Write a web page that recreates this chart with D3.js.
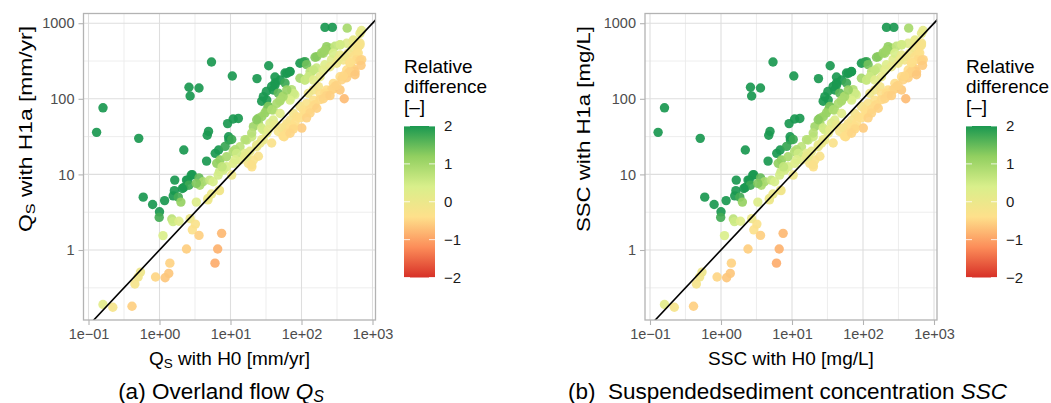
<!DOCTYPE html>
<html>
<head>
<meta charset="utf-8">
<script src="https://cdn.jsdelivr.net/npm/d3@7"></script>
<style>
  html, body { margin: 0; padding: 0; background: #fff; }
  svg { display: block; font-family: "Liberation Sans", Arial, Helvetica, sans-serif; }
</style>
</head>
<body>
<svg id="chart" width="1051" height="403"></svg>
<script>
// Simulated values per catchment: reference run (H0) and hypothesis run (H1a).
// The same pairs feed both panels.
const h0Values = [
  // scattered high outliers
  0.13, 0.16, 0.51, 0.59, 0.80, 1.0, 0.99, 1.18, 1.64, 1.62, 1.56, 1.84, 2.0, 2.2, 2.2, 2.5, 2.9,
  2.6, 3.6, 2.7, 5.4, 10.6, 23.6, 34.5, 4.9, 4.7, 4.6, 6.1, 6.8, 9.1, 10.9, 12.9, 9.4, 9.5, 10.4,
  214, 272, 440, 700,
  // low range
  1.49, 1.55, 1.88, 1.12, 2.7, 3.2, 2.9, 3.6, 7.5, 6.6, 6.05, 2.4, 1.4, 1.35, 1.2, 0.88, 0.54, 0.50,
  0.45, 0.41, 0.16, 0.22, 3.3, 4.8, 5.4, 6.9,
  // green cluster 2–20
  2.8, 2.4, 2.6, 2.1, 3.6, 4.1, 5.1, 7.0, 7.8, 3.7, 3.3, 5.7, 6.7, 7.9, 8.8, 7.1, 6.4, 7.6, 8.8,
  10.9, 13.6, 16.9, 19.9, 8.4, 11.6,
  // near the 1:1 line, 4–50
  10.4, 7.0, 4.8, 10.9, 13.6, 17.8, 20, 21, 19.8, 16.9, 16, 12.2, 23.4, 26, 29, 32.4, 29, 36, 40,
  40, 50, 38, 11.6, 16, 18.8, 23.4, 27.5, 24.7,
  // upper green band
  21, 24.6, 32.4, 27.5, 34.1, 32.4, 29, 40, 42.4, 50, 62, 69, 95, 112, 164, 203, 226, 252, 226,
  349, 433, 537, 667, 106, 118, 155, 192, 213, 296, 350, 537, 58.6, 68.5, 42.3, 42.3, 38, 32, 27.5,
  34.1, 47, 58.6, 49.6, 55, 72.5, 80.6, 68.7, 111, 131, 139, 163, 213, 265, 16, 19.9, 24.7, 23.4,
  30.6, 38, 27.5, 34, 42.3, 95, 112, 132, 147, 125, 77, 69, 55, 50, 45, 62,
  // pale band along the line
  281, 349, 388, 313, 252, 203, 182, 147, 173, 147, 125, 330, 408, 455, 537, 667, 630,
  147, 182, 226, 281, 349, 433, 482, 537, 599, 631, 667,
  77, 69, 62, 59, 53, 57, 47, 77, 95, 118, 106, 86,
  630, 600, 510, 455, 370, 296, 265, 213, 182, 155, 131, 112, 95, 81, 69, 62, 55,
  // below the line
  226, 281, 349, 433, 537, 568, 667, 705, 482, 388, 482, 147, 203, 252, 313, 164, 132, 118, 101,
  77, 69, 690, 567, 400
];

const h1aValues = [
  36, 76, 30, 5.0, 4.0, 3.2, 2.7, 4.5, 8.4, 6.1, 5.2, 5.0, 4.3, 21, 6.7, 8.4, 9.9,
  142, 139, 109, 307, 200, 185, 274, 37, 33, 15, 19, 21, 47, 54, 55, 31.5, 28.5, 29,
  880, 880, 860, 800,
  2.57, 2.37, 2.4, 1.55, 2.6, 2.2, 1.85, 1.56, 1.66, 1.03, 0.67, 1.03, 0.67, 0.49, 0.43, 0.44, 0.51, 0.44,
  0.355, 0.18, 0.19, 0.175, 4.3, 4.8, 5.5, 6.2,
  9.8, 8.4, 7.2, 6.5, 9.0, 8.0, 8.4, 10.9, 12, 7.2, 7.6, 8.0, 9.8, 11.4, 12.6, 15.5, 14.0, 12.6, 17.1,
  20, 23.2, 28.5, 31.5, 23.5, 21.2,
  9.8, 6.1, 4.6, 14, 15.5, 14, 12.6, 15.5, 13.4, 17.1, 19, 19, 23.2, 25.8, 28.5, 35, 38.7, 47.4, 52.5,
  71, 64, 26, 15.6, 17.4, 20.2, 24.6, 28.8, 17.4,
  42.8, 55, 71, 58, 78.7, 96.4, 107, 131, 152, 177, 217, 228, 295, 310, 360, 400, 442, 466, 489,
  515, 542, 600, 735, 304, 283, 354, 405, 440, 495, 520, 576, 219, 230, 194, 162, 146, 125, 93,
  79.5, 119, 162, 92.7, 108, 132, 113, 102, 179, 199, 230, 255, 282, 330, 28.8, 35.3, 47.8, 52.8,
  65, 71.6, 41, 39, 45.5, 187, 177, 228, 240, 196, 118, 96, 107, 96, 87, 131,
  400, 380, 326, 295, 266, 240, 196, 177, 145, 131, 118, 330, 364, 402, 469, 547, 495,
  96, 118, 131, 160, 196, 240, 295, 360, 400, 489, 515,
  64, 52, 47, 43, 41, 31.5, 37, 43, 79, 87, 71, 58,
  403, 330, 255, 219, 179, 146, 132, 119, 97.5, 83.7, 72, 65, 56, 48, 41, 35, 32,
  110, 135, 131, 190, 250, 228, 320, 330, 228, 200, 300, 80, 100, 110, 150, 75, 65, 56, 41,
  40, 35, 277, 208, 100
];

const xTickValues = [0.1, 1, 10, 100, 1000];
const xTickLabels = ["1e\u221201", "1e+00", "1e+01", "1e+02", "1e+03"];
const yTickValues = [1, 10, 100, 1000];
const yTickLabels = ["1", "10", "100", "1000"];
const xMinorValues = [0.316, 3.16, 31.6, 316];
const yMinorValues = [0.316, 3.16, 31.6, 316];

const legendValues = [2, 1, 0, -1, -2];
const legendLabels = ["2", "1", "0", "\u22121", "\u22122"];
const paletteStops = [-2, -1.2, -0.4, 0.4, 1.2, 2];
const paletteColors = ["#d73027", "#fc8d59", "#fee08b", "#d9ef8b", "#91cf60", "#1a9850"];

const panelDefs = [
  {
    id: "qs", dx: 0, yTitleX: 31.5, legendX: 404, captionX: 221,
    xTitle: [{t: "Q"}, {t: "S", sub: true}, {t: " with H0 [mm/yr]"}],
    yTitle: [{t: "Q"}, {t: "S", sub: true}, {t: " with H1a [mm/yr]"}],
    caption: [{t: "(a) Overland flow "}, {t: "Q", it: true}, {t: "S", it: true, sub: true}]
  },
  {
    id: "ssc", dx: 561.5, yTitleX: 589.5, legendX: 966, captionX: 787.5,
    xTitle: [{t: "SSC with H0 [mg/L]"}],
    yTitle: [{t: "SSC with H1a [mg/L]"}],
    caption: [{t: "(b)  Suspendedsediment concentration "}, {t: "SSC", it: true}]
  }
];

const points = h0Values.map((x, i) => ({x, y: h1aValues[i], rel: (h1aValues[i] - x) / x}));

const color = d3.scaleLinear().domain(paletteStops).range(paletteColors).clamp(true);

const svg = d3.select("#chart");
const defs = svg.append("defs");

// Appends text pieces as tspans; subscripts are shifted down and the baseline restored afterwards.
function addParts(textSel, parts, subSize) {
  parts.forEach((p, i) => {
    const ts = textSel.append("tspan").text(p.t);
    if (p.it) ts.attr("font-style", "italic");
    if (p.sub) ts.attr("font-size", subSize).attr("dy", 3);
    else if (i > 0 && parts[i - 1].sub) ts.attr("dy", -3);
  });
}

panelDefs.forEach(p => {
  const left = 83.5 + p.dx, right = 375.5 + p.dx, top = 13.5, bottom = 320;
  const x = d3.scaleLog().domain([0.1, 1000]).range([88.5 + p.dx, 372.5 + p.dx]);
  const y = d3.scaleLog().domain([0.1, 1000]).range([325.6, 23.2]);
  const g = svg.append("g");

  // grid
  g.append("g").selectAll("line").data(xMinorValues).join("line")
    .attr("x1", d => x(d)).attr("x2", d => x(d)).attr("y1", top).attr("y2", bottom)
    .attr("stroke", "#ebebeb").attr("stroke-width", 0.9);
  g.append("g").selectAll("line").data(yMinorValues).join("line")
    .attr("y1", d => y(d)).attr("y2", d => y(d)).attr("x1", left).attr("x2", right)
    .attr("stroke", "#ebebeb").attr("stroke-width", 0.9);
  g.append("g").selectAll("line").data(xTickValues).join("line")
    .attr("x1", d => x(d)).attr("x2", d => x(d)).attr("y1", top).attr("y2", bottom)
    .attr("stroke", "#dedede").attr("stroke-width", 1.1);
  g.append("g").selectAll("line").data(yTickValues).join("line")
    .attr("y1", d => y(d)).attr("y2", d => y(d)).attr("x1", left).attr("x2", right)
    .attr("stroke", "#dedede").attr("stroke-width", 1.1);

  // points
  g.append("g").selectAll("circle").data(points).join("circle")
    .attr("cx", d => x(d.x)).attr("cy", d => y(d.y)).attr("r", 4.7)
    .attr("fill", d => color(d.rel)).attr("fill-opacity", 0.92);

  // 1:1 line, clipped to the panel
  defs.append("clipPath").attr("id", "clip-" + p.id)
    .append("rect").attr("x", left).attr("y", top).attr("width", right - left).attr("height", bottom - top);
  g.append("line").attr("clip-path", `url(#clip-${p.id})`)
    .attr("x1", x(0.05)).attr("y1", y(0.05)).attr("x2", x(2000)).attr("y2", y(2000))
    .attr("stroke", "#000").attr("stroke-width", 1.6);

  // panel border
  g.append("rect").attr("x", left).attr("y", top).attr("width", right - left).attr("height", bottom - top)
    .attr("fill", "none").attr("stroke", "#b3b3b3").attr("stroke-width", 1.3);

  // axes
  const xAxis = g.append("g").attr("transform", `translate(0,${bottom})`)
    .call(d3.axisBottom(x).tickValues(xTickValues).tickFormat((d, i) => xTickLabels[i]).tickSize(5).tickPadding(4));
  const yAxis = g.append("g").attr("transform", `translate(${left},0)`)
    .call(d3.axisLeft(y).tickValues(yTickValues).tickFormat((d, i) => yTickLabels[i]).tickSize(5).tickPadding(4));
  [xAxis, yAxis].forEach(a => {
    a.select(".domain").remove();
    a.selectAll(".tick line").attr("stroke", "#b3b3b3").attr("stroke-width", 1.1);
    a.selectAll(".tick text").attr("fill", "#4d4d4d").attr("font-size", 14.5)
      .attr("font-family", "Liberation Sans, Arial, sans-serif");
  });

  // axis titles
  const xt = g.append("text").attr("x", (left + right) / 2).attr("y", 364.5)
    .attr("text-anchor", "middle").attr("font-size", 19).attr("fill", "#000");
  addParts(xt, p.xTitle, 13.5);
  const yt = g.append("text").attr("transform", `translate(${p.yTitleX},129) rotate(-90)`)
    .attr("text-anchor", "middle").attr("font-size", 19).attr("fill", "#000")
    .attr("textLength", 206).attr("lengthAdjust", "spacingAndGlyphs");
  addParts(yt, p.yTitle, 13.5);

  // caption
  const cap = g.append("text").attr("x", p.captionX).attr("y", 398.5)
    .attr("text-anchor", "middle").attr("font-size", 22.5).attr("fill", "#000")
    .style("white-space", "pre");
  addParts(cap, p.caption, 16);

  // colour legend
  const grad = defs.append("linearGradient").attr("id", "grad-" + p.id)
    .attr("x1", 0).attr("y1", 1).attr("x2", 0).attr("y2", 0);
  paletteStops.forEach((s, i) => grad.append("stop")
    .attr("offset", (s + 2) / 4).attr("stop-color", paletteColors[i]));
  const ly = d3.scaleLinear().domain([-2, 2]).range([277.5, 126]);
  const lg = g.append("g");
  const titleLines = ["Relative", "difference", "[\u2013]"];
  lg.selectAll("text.title").data(titleLines).join("text").attr("class", "title")
    .attr("x", p.legendX).attr("y", (d, i) => 73.3 + i * 20)
    .attr("font-size", 19).attr("fill", "#000").text(d => d);
  lg.append("rect").attr("x", p.legendX).attr("y", ly(2)).attr("width", 31)
    .attr("height", ly(-2) - ly(2)).attr("fill", `url(#grad-${p.id})`);
  legendValues.forEach(v => {
    lg.append("line").attr("x1", p.legendX).attr("x2", p.legendX + 6).attr("y1", ly(v)).attr("y2", ly(v))
      .attr("stroke", "#fff").attr("stroke-opacity", 0.8).attr("stroke-width", 1);
    lg.append("line").attr("x1", p.legendX + 25).attr("x2", p.legendX + 31).attr("y1", ly(v)).attr("y2", ly(v))
      .attr("stroke", "#fff").attr("stroke-opacity", 0.8).attr("stroke-width", 1);
  });
  lg.selectAll("text.lab").data(legendValues).join("text").attr("class", "lab")
    .attr("x", p.legendX + 40).attr("y", d => ly(d)).attr("dy", "0.36em")
    .attr("font-size", 15).attr("fill", "#1a1a1a").text((d, i) => legendLabels[i]);
});
</script>
</body>
</html>
